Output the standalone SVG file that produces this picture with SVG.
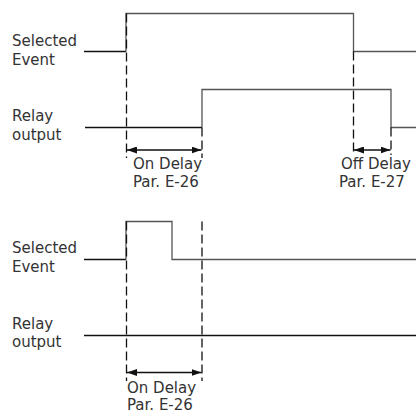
<svg xmlns="http://www.w3.org/2000/svg" width="416" height="414" viewBox="0 0 416 414">
<style>
text{font-family:"DejaVu Sans","Verdana",sans-serif;font-size:15px;fill:#333}
.sig{fill:none;stroke:#555;stroke-width:1.3}
.lead{fill:none;stroke:#111;stroke-width:1.3}
.dash{fill:none;stroke:#111;stroke-width:1.3;stroke-dasharray:9 4}
.dim{fill:none;stroke:#111;stroke-width:1.3}
</style>
<defs>
<marker id="ah" viewBox="0 0 10 7" refX="10" refY="3.5" markerWidth="10" markerHeight="7" markerUnits="userSpaceOnUse" orient="auto-start-reverse">
<path d="M0,0 L10,3.5 L0,7 Z" fill="#111"/>
</marker>
</defs>
<g id="labels">
<text x="12" y="46">Selected</text>
<text x="12" y="65">Event</text>
<text x="12" y="121">Relay</text>
<text x="12" y="140">output</text>
<text x="12" y="253">Selected</text>
<text x="12" y="272">Event</text>
<text x="12" y="329">Relay</text>
<text x="12" y="347">output</text>
</g>
<g id="connectors">
<g id="top-event">
<path class="lead" d="M84,51.5 H126"/>
<path class="sig" d="M126,51.5 V13.5 H353.5 V51.5 H416"/>
</g>
<g id="top-relay">
<path class="lead" d="M85,127.5 H202"/>
<path class="sig" d="M202,127.5 V89.5 H391 V127.5 H416"/>
</g>
<path class="dash" d="M126.5,13.5 V158"/>
<path class="dash" d="M202,127.5 V158"/>
<path class="dash" d="M353.5,51.5 V155"/>
<path class="dash" d="M391,127.5 V155"/>
<path class="dim" d="M127,150 H201.5" marker-start="url(#ah)" marker-end="url(#ah)"/>
<path class="dim" d="M354,150 H390.5" marker-start="url(#ah)" marker-end="url(#ah)"/>
<g id="bottom-event">
<path class="lead" d="M84,259.5 H126"/>
<path class="sig" d="M126,259.5 V221.5 H172 V259.5 H416"/>
</g>
<path class="lead" id="bottom-relay" d="M84,335.5 H416"/>
<path class="dash" d="M126.5,221.5 V381"/>
<path class="dash" d="M202,221.5 V381"/>
<path class="dim" d="M127,372.5 H201.5" marker-start="url(#ah)" marker-end="url(#ah)"/>
</g>
<g id="dim-labels">
<text x="133" y="169">On Delay</text>
<text x="133" y="187">Par. E-26</text>
<text x="341" y="169">Off Delay</text>
<text x="339" y="187">Par. E-27</text>
<text x="127" y="393">On Delay</text>
<text x="127" y="410">Par. E-26</text>
</g>
</svg>
